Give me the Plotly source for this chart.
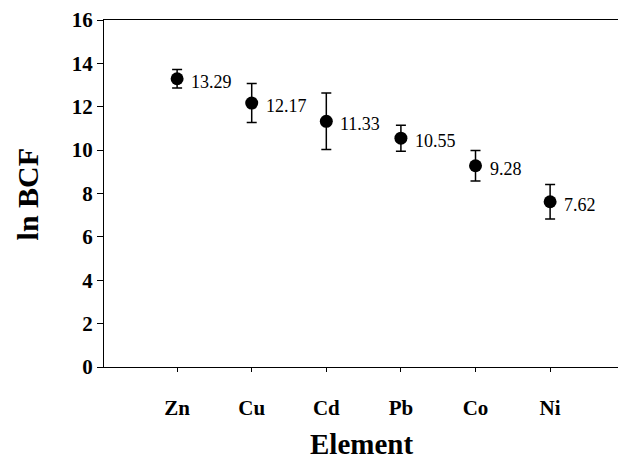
import plotly.graph_objects as go

elements = ["Zn", "Cu", "Cd", "Pb", "Co", "Ni"]
ln_bcf = [13.29, 12.17, 11.33, 10.55, 9.28, 7.62]
err = [0.43, 0.9, 1.3, 0.6, 0.7, 0.8]
labels = ["13.29", "12.17", "11.33", "10.55", "9.28", "7.62"]
y_ticks = [0, 2, 4, 6, 8, 10, 12, 14, 16]

xpos = list(range(len(elements)))
serif = "Liberation Serif, Times New Roman, serif"

fig = go.Figure()
fig.add_trace(go.Scatter(
    x=xpos, y=ln_bcf, mode="markers",
    marker=dict(size=13, color="black"),
    error_y=dict(type="data", array=err, visible=True, color="black", thickness=1.5, width=5),
    showlegend=False,
))

for xi, yi, lab in zip(xpos, ln_bcf, labels):
    fig.add_annotation(x=xi, y=yi, text=lab, showarrow=False, xanchor="left",
                       xshift=12, yshift=-3, font=dict(family=serif, size=18, color="black"))

fig.add_annotation(text="<b>ln BCF</b>", xref="paper", yref="paper", x=-0.148, y=0.5,
                   xanchor="center", yanchor="middle",
                   textangle=-90, showarrow=False, font=dict(family=serif, size=30, color="black"))
fig.add_annotation(text="<b>Element</b>", xref="paper", yref="paper", x=0.5, y=-0.222,
                   xanchor="center", yanchor="middle", showarrow=False,
                   font=dict(family=serif, size=29, color="black"))

fig.update_layout(
    width=619, height=453,
    margin=dict(l=96, r=9, t=12, b=94),
    paper_bgcolor="white", plot_bgcolor="white",
    xaxis=dict(range=[-0.98, 5.91], tickvals=xpos, ticktext=[f"<b>{e}</b>" for e in elements],
               showline=True, linecolor="black", linewidth=1.2, mirror=True, automargin=False,
               ticks="outside", ticklen=4, tickcolor="black", showgrid=False, zeroline=False,
               ticklabelstandoff=18,
               tickfont=dict(family=serif, size=21, color="black")),
    yaxis=dict(range=[0, 16], tickvals=y_ticks, ticktext=[f"<b>{v}</b>" for v in y_ticks],
               showline=True, linecolor="black", linewidth=1.2, mirror=False, automargin=False,
               ticks="outside", ticklen=6, tickcolor="black", showgrid=False, zeroline=False,
               tickfont=dict(family=serif, size=21, color="black")),
)

fig.write_html("out.html")
